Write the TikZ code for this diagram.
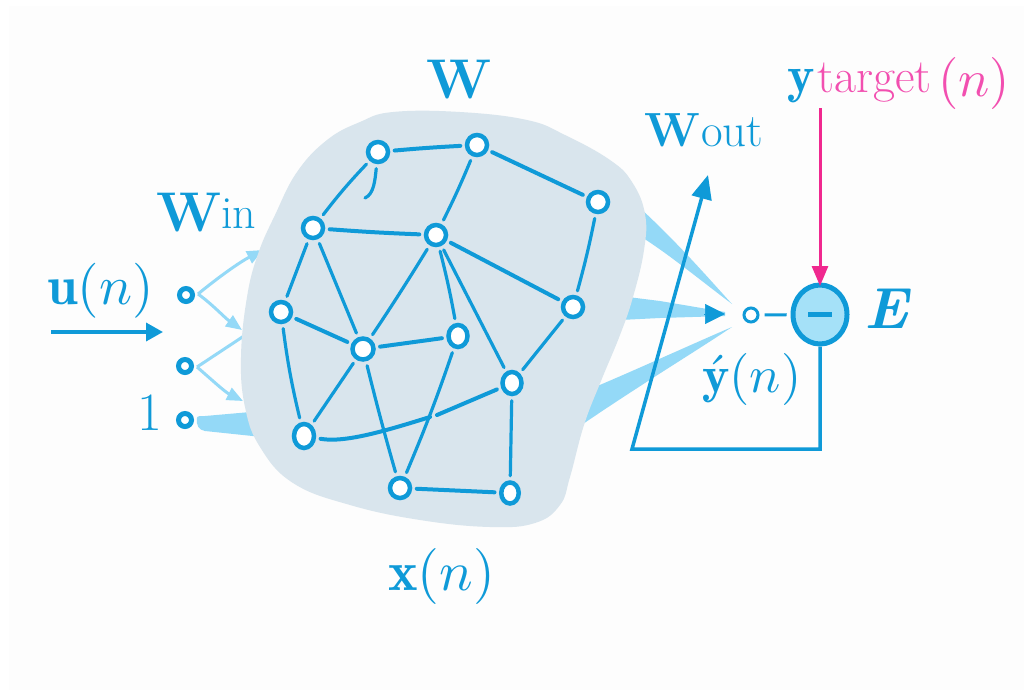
\documentclass[tikz,border=0pt]{standalone}
\usepackage{fontspec}
\usepackage{graphicx}
\usetikzlibrary{arrows.meta,shapes.geometric}
\definecolor{cblue}{HTML}{0F9AD8}
\definecolor{clight}{HTML}{94D9F7}
\definecolor{cblob}{HTML}{D9E5ED}
\definecolor{cpink}{HTML}{F0288F}
\definecolor{cpinktext}{HTML}{F24FB0}
\definecolor{cbg}{HTML}{FDFDFD}
\definecolor{cminus}{HTML}{A5E1F8}
\newcommand{\fs}[1]{\fontsize{#1}{#1}\selectfont}
\newcommand{\mathat}[2]{\scalebox{#1}{$#2$}}
\tikzset{
  res/.style={circle,draw=cblue,fill=white,line width=4.5pt,minimum size=20pt,inner sep=0pt},
  res tall/.style={ellipse,draw=cblue,fill=white,line width=4.5pt,minimum width=19pt,minimum height=22pt,inner sep=0pt},
  innode/.style={circle,draw=cblue,fill=white,line width=5pt,minimum size=13pt,inner sep=0pt},
  edge/.style={draw=cblue,line width=4pt,line cap=round,shorten >=4.5pt,shorten <=4.5pt},
  thin edge/.style={edge,line width=3.2pt},
  lbl/.style={text=cblue,inner sep=0pt,anchor=base west},
  wire/.style={draw=cblue,line width=3.5pt},
  lightarrow/.style={draw=clight,line width=3pt,-{Triangle[length=16pt,width=13pt,fill=clight]}},
  wedge/.style={fill=clight,draw=none}
}
\begin{document}
\begin{tikzpicture}[x=1pt,y=-1pt]
\useasboundingbox (0,0) rectangle (1032,693);
\fill[white] (0,0) rectangle (1032,693);
\fill[cbg] (9,6) rectangle (1024,690);

% input sites
\node[innode] (in1) at (186,295) {};
\node[innode] (in2) at (185,366) {};
\node[innode] (in3) at (185,420) {};
\coordinate (f1) at (198,294);
\coordinate (f2) at (197,367);
\coordinate (a1) at (263,250);
\coordinate (a2) at (242,330);
\coordinate (a3) at (250,332);
\coordinate (a4) at (243,401);

% light connectors, behind the reservoir
\draw[lightarrow] (f1) .. controls (220,276) and (240,262) .. (a1);
\draw[lightarrow] (f1) .. controls (212,304) and (225,318) .. (a2);
\draw[draw=clight,line width=3pt] (f2) -- (a3);
\draw[lightarrow] (f2) .. controls (212,380) and (225,392) .. (a4);
\path[wedge] (197,418) .. controls (197,416) and (200,416) .. (205,416) -- (262,411) -- (262,437) -- (205,431) .. controls (199,430) and (196,426) .. (197,418) -- cycle;

% output wedges
\path[wedge] (640,208) .. controls (680,245) and (710,280) .. (732,304) .. controls (700,280) and (670,255) .. (640,236) -- cycle;
\path[wedge] (620,296) -- (660,301) -- (725,312) -- (725,316) -- (660,318) -- (620,320) -- cycle;
\path[wedge] (595,387) .. controls (640,368) and (690,345) .. (732,327) .. controls (690,355) and (640,385) .. (580,426) -- cycle;

% reservoir
\fill[cblob] plot[smooth cycle,tension=0.7] coordinates {
 (393,112) (460,112) (527,120) (565,135) (610,160) (632,182) (645,214) (644,250)
 (633,297) (620,335) (601,381) (584,425) (570,477) (560,505) (535,523) (490,527)
 (420,520) (350,505) (293,483) (260,447) (245,407) (241,357) (247,297)
 (258,254) (275,215) (297,172) (327,140) (360,122)};

% reservoir nodes
\node[res] (n1) at (378,152) {};
\node[res] (n2) at (477,145) {};
\node[res] (n3) at (598,202) {};
\node[res] (n4) at (313,228) {};
\node[res] (n5) at (436,235) {};
\node[res] (n6) at (573,307) {};
\node[res] (n7) at (281,312) {};
\node[res,minimum size=21pt] (n8) at (363,349) {};
\node[res tall] (n9) at (458,336) {};
\node[res tall] (n10) at (512,383) {};
\node[res tall,minimum width=20pt,minimum height=24pt] (n11) at (304,436) {};
\node[res] (n12) at (400,488) {};
\node[res tall,minimum width=17.5pt,minimum height=21pt] (n13) at (510,493) {};
\coordinate (stub) at (365,198);
\coordinate (mid1) at (430,417);
\coordinate (mid2) at (437,415);

\draw[edge] (n1) to[bend left=1] (n2);
\draw[edge] (n2) -- (n3);
\draw[thin edge] (n1) to[bend right=3] (n4);
\draw[thin edge,shorten >=0pt] (n1) .. controls (375,180) and (374,194) .. (stub);
\draw[thin edge] (n2) to[bend left=2] (n5);
\draw[edge] (n4) to[bend right=1] (n5);
\draw[thin edge] (n3) to[bend left=2] (n6);
\draw[edge] (n5) -- (n6);
\draw[thin edge] (n4) -- (n7);
\draw[thin edge] (n4) -- (n8);
\draw[thin edge] (n5) to[bend left=1] (n8);
\draw[thin edge] (n5) to[bend left=2] (n9);
\draw[thin edge] (n5) -- (n10);
\draw[edge] (n7) -- (n8);
\draw[edge] (n8) -- (n9);
\draw[thin edge] (n6) -- (n10);
\draw[thin edge] (n7) to[bend right=3] (n11);
\draw[thin edge] (n8) -- (n11);
\draw[thin edge] (n8) to[bend right=1] (n12);
\draw[thin edge] (n9) to[bend left=2] (n12);
\draw[edge,shorten >=0pt] (n11) .. controls (345,443) and (385,431) .. (mid1);
\draw[edge,shorten >=0pt] (n10) -- (mid2);
\draw[thin edge] (n10) -- (n13);
\draw[edge] (n12) -- (n13);

% output part
\node[circle,draw=cblue,fill=white,line width=3pt,minimum size=14pt,inner sep=0pt] (out) at (751,315) {};
\node[ellipse,draw=cblue,fill=cminus,line width=5pt,minimum width=54pt,minimum height=59pt,inner sep=0pt] (err) at (820,314.5) {};
\draw[cblue,line width=5pt] ([xshift=-12pt]err.center) -- ([xshift=12pt]err.center);
\draw[cblue,line width=3pt,shorten <=5pt,shorten >=4pt] (out) -- (err);

\coordinate (tipw) at (725,314);
\coordinate (tailw) at (704,314);
\draw[cblue,line width=0.5pt,-{Triangle[length=20pt,width=20pt,fill=cblue]}] (tailw) -- (tipw);

\coordinate (fb1) at (820,449);
\coordinate (fb2) at (632,449);
\coordinate (fb3) at (708,175);
\draw[wire,line join=miter,-{Triangle[length=24pt,width=20pt,fill=cblue]}] (err.south) -- (fb1) -- (fb2) -- (fb3);

% driving input
\coordinate (us) at (51,332);
\coordinate (ue) at (163,332);
\draw[wire,-{Triangle[length=17pt,width=18pt,fill=cblue]}] (us) -- (ue);

% labels
\node[lbl] (tW) at (426,98) {\fs{56}\bfseries W};
\node[lbl] (tWin) at (156,231) {\fs{56}\bfseries W};
\node[lbl] (tin) at (221,228) {\fs{46}in};
\node[lbl] (tu) at (47,304) {\mathat{5.5}{\mathbf{u}(n)}};
\node[lbl] (tone) at (137,430) {\fs{54}1};
\node[lbl] (tx) at (388,590) {\mathat{5.6}{\mathbf{x}(n)}};
\node[lbl] (tWo) at (644,146) {\fs{48}\bfseries W};
\node[lbl] (tout) at (701,146) {\fs{47}out};
\node[lbl] (ty) at (787,92) {\mathat{5.2}{\mathbf{y}}};
\node[lbl,text=cpinktext] (ttar) at (817,92) {\fs{48}target};
\node[lbl,text=cpinktext] (tn) at (938,96) {\mathat{5.2}{(n)}};
\node[lbl] (th) at (702,392) {\mathat{5.2}{\acute{\mathbf{y}}(n)}};
\node[lbl] (tE) at (864,328) {\fs{58}\bfseries\itshape E};

% target arrow
\coordinate (ts) at (820,108);
\draw[draw=cpink,line width=3pt,-{Triangle[length=20pt,width=16pt,fill=cpink]}] (ts) -- ([yshift=-3.5pt]err.north);
\end{tikzpicture}
\end{document}
